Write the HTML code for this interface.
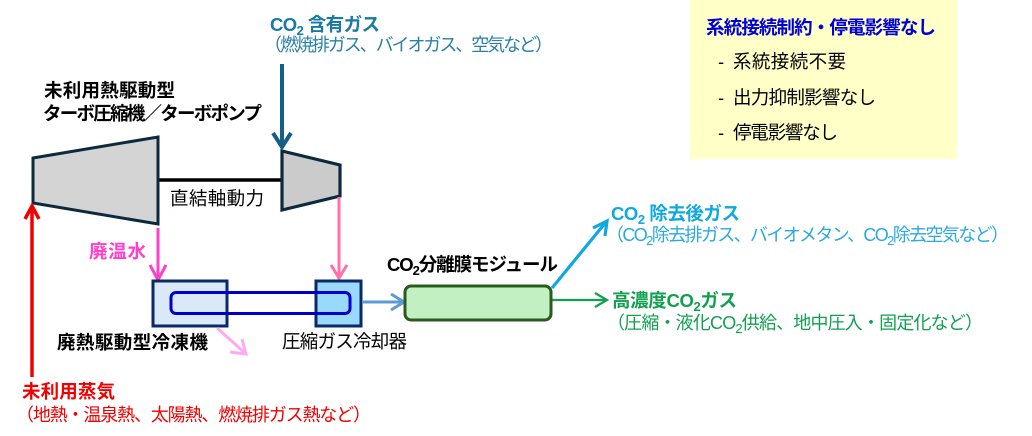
<!DOCTYPE html>
<html lang="ja"><head><meta charset="utf-8"><style>
html,body{margin:0;padding:0;background:#fff}
svg{display:block}
text{font-family:"Liberation Sans","Noto Sans CJK JP",sans-serif;font-size:18.5px}
.b{font-weight:700}
.p{font-size:18px}
.s{font-size:13px}
</style></head><body>
<svg width="1032" height="436" viewBox="0 0 1032 436" xmlns="http://www.w3.org/2000/svg">
<rect width="1032" height="436" fill="#fff"/>
<rect x="690" y="0" width="267" height="159" fill="#ffffc8"/>

<line x1="158" y1="180" x2="282" y2="180" stroke="#000" stroke-width="3.500"/>
<polygon points="33,158 158,137 158,224 33,203" fill="#d4d4d4" stroke="#0c2a3e" stroke-width="3"/>
<polygon points="282,151 340,165 340,196 282,210" fill="#cbcbcb" stroke="#0c2a3e" stroke-width="3.200"/>

<g fill="none" stroke-linecap="butt">
<path d="M32 377V206M25 219L32 206L39 219" stroke="#f00000" stroke-width="3.500"/>
<path d="M282 64V148M273 133L282 147L291 133" stroke="#155f85" stroke-width="4"/>
<path d="M158 228V280M150 265L158 280L166 265" stroke="#ff40c8" stroke-width="3"/>
<path d="M339 197V278M331 265L339 278L347 265" stroke="#ff6fa8" stroke-width="3"/>
</g>

<rect x="153" y="281" width="74" height="45" fill="#dae8f8" stroke="#0a2a66" stroke-width="3"/>
<rect x="316" y="281" width="45" height="45" fill="#99d9fb" stroke="#0a2a66" stroke-width="3"/>
<rect x="171" y="292.500" width="179" height="21" rx="5" fill="none" stroke="#0000cc" stroke-width="3"/>

<g fill="none">
<path d="M217 328L245 353M230 352L246 354L242 339" stroke="#ffaaf0" stroke-width="3"/>
<path d="M362 302H403M391 294L404 302L391 310" stroke="#5b9bd5" stroke-width="3"/>
<path d="M552 288L606 222M593 228L607 221L605 236" stroke="#0fa8e0" stroke-width="3.200"/>
<path d="M552 300H606M595 293L607 300L595 307" stroke="#10a050" stroke-width="2.200"/>
</g>
<rect x="405" y="286" width="146" height="34" rx="6" fill="#c3f0c3" stroke="#2b5a1e" stroke-width="3"/>

<text class="b" x="270" y="31" fill="#1a7aa0" textLength="110">CO<tspan class="s" dy="4">2</tspan><tspan dy="-4"> 含有ガス</tspan></text>
<text class="p" x="264" y="51" fill="#2a80a8" textLength="289">（燃焼排ガス、バイオガス、空気など）</text>
<text class="b" x="44" y="97" textLength="131">未利用熱駆動型</text>
<text class="b" x="43" y="120" textLength="219">ターボ圧縮機／ターボポンプ</text>
<text x="170" y="205" textLength="94">直結軸動力</text>
<text class="b" x="89" y="258" fill="#ff40c8" textLength="57">廃温水</text>
<text class="b" x="57" y="349" textLength="151">廃熱駆動型冷凍機</text>
<text x="282" y="348" textLength="125">圧縮ガス冷却器</text>
<text class="b" x="22" y="398" fill="#f00000" textLength="93">未利用蒸気</text>
<text class="p" x="16" y="421" fill="#f00000" textLength="355">（地熱・温泉熱、太陽熱、燃焼排ガス熱など）</text>
<text class="b" x="387" y="271" textLength="171">CO<tspan class="s" dy="4">2</tspan><tspan dy="-4">分離膜モジュール</tspan></text>
<text class="b" x="611" y="220" fill="#0fa8e0" textLength="129">CO<tspan class="s" dy="4">2</tspan><tspan dy="-4"> 除去後ガス</tspan></text>
<text class="p" x="606" y="241" fill="#2aa9e0" textLength="403">（CO<tspan class="s" dy="4">2</tspan><tspan dy="-4">除去排ガス、バイオメタン、CO</tspan><tspan class="s" dy="4">2</tspan><tspan dy="-4">除去空気など）</tspan></text>
<text class="b" x="612" y="307" fill="#10a050" textLength="125">高濃度CO<tspan class="s" dy="4">2</tspan><tspan dy="-4">ガス</tspan></text>
<text class="p" x="607" y="329" fill="#10a050" textLength="376">（圧縮・液化CO<tspan class="s" dy="4">2</tspan><tspan dy="-4">供給、地中圧入・固定化など）</tspan></text>
<text class="b" x="706" y="34" fill="#0000d8" textLength="230">系統接続制約・停電影響なし</text>
<text x="718" y="68">-</text><text x="733" y="68" textLength="113">系統接続不要</text>
<text x="718" y="104">-</text><text x="733" y="104" textLength="143">出力抑制影響なし</text>
<text x="718" y="139">-</text><text x="733" y="139" textLength="105">停電影響なし</text>
</svg>
</body></html>
